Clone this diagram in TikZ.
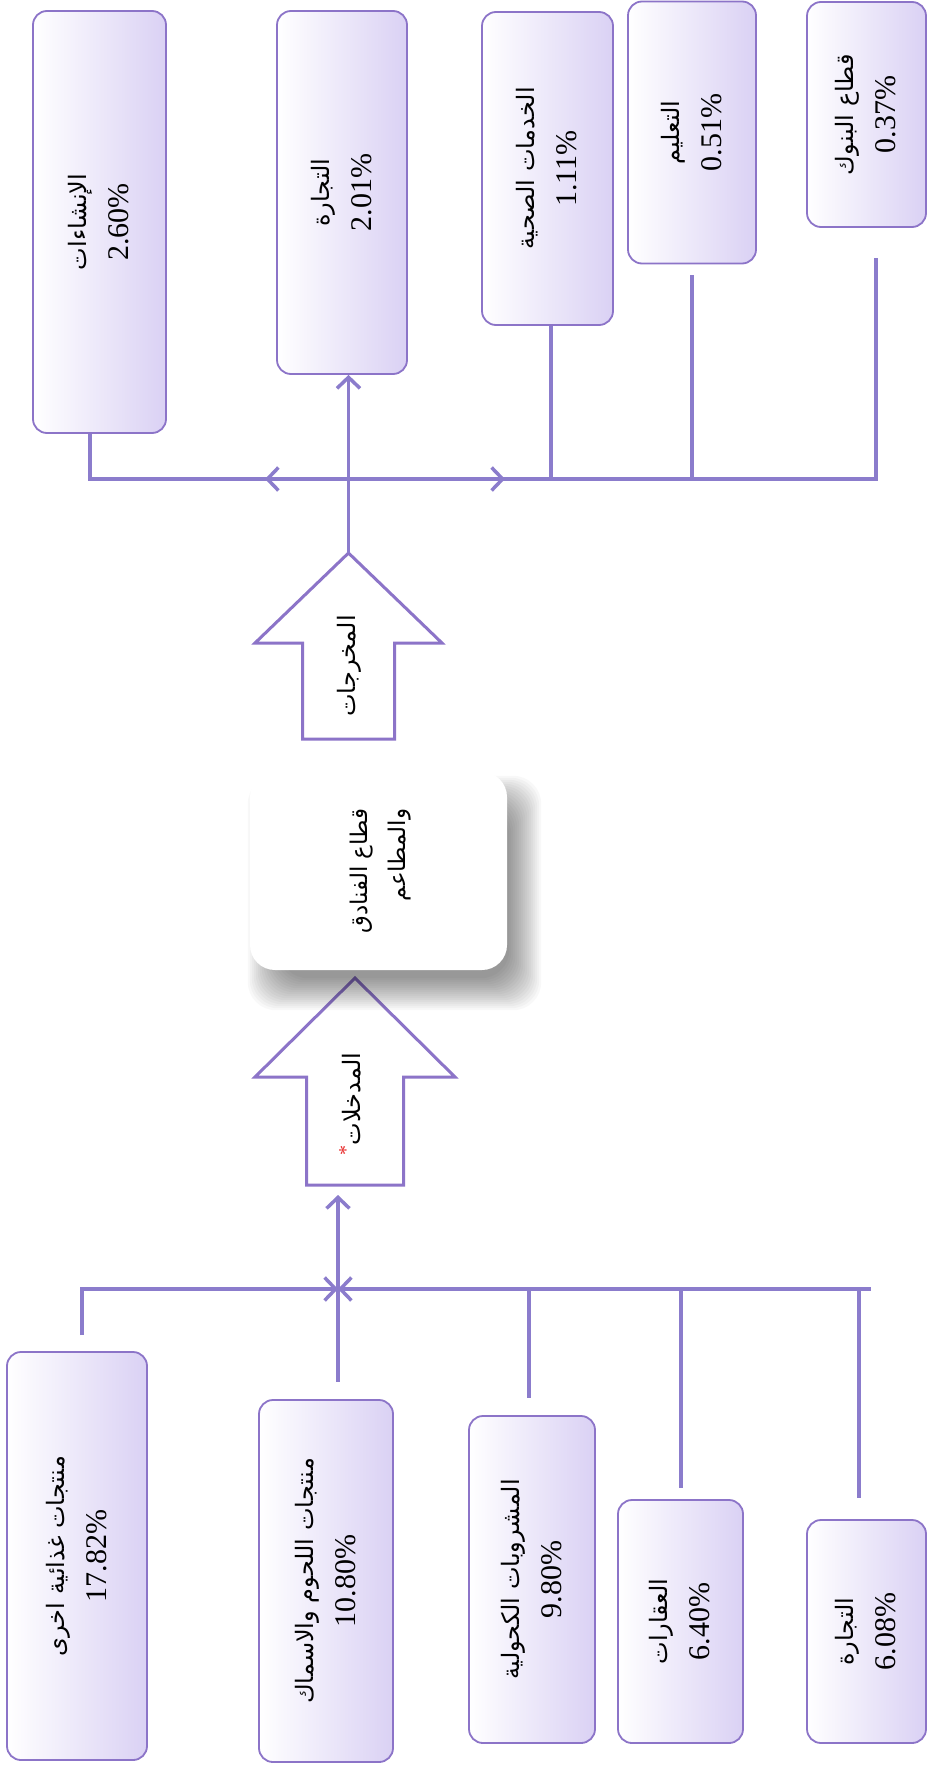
\documentclass[tikz,border=0pt]{standalone}
\usepackage{fontspec}
\usepackage{graphicx}
\setmainfont{Liberation Serif}
\newfontfamily\arfont[Script=Arabic]{DejaVu Sans}
\TeXXeTstate=1
\usetikzlibrary{arrows.meta,calc}
\pgfdeclarelayer{shadowlayer}
\pgfdeclarelayer{toplayer}
\pgfsetlayers{main,shadowlayer,toplayer}
\definecolor{lineC}{RGB}{139,124,204}
\definecolor{borderC}{RGB}{140,116,200}
\definecolor{fillC}{RGB}{218,209,244}
\definecolor{starC}{RGB}{232,40,40}
\newcommand{\boxlbl}[2]{\rotatebox{90}{\begin{tabular}{@{}c@{}}{\arfont\fontsize{24}{42}\selectfont\beginR #1\endR}\\ #2\end{tabular}}}
\newcommand{\blockarr}[7]{%
  \draw[blk] (#2,#3) -- (#2+#6,#4) -- (#2+#7,#4) -- (#2+#7,#5) -- (#2-#7,#5) -- (#2-#7,#4) -- (#2-#6,#4) -- cycle;
  \coordinate (#1-tip) at (#2,#3);
  \coordinate (#1-bot) at (#2,#5);}
\tikzset{
  secbox/.style={draw=borderC, line width=1.8pt, rounded corners=14pt, left color=white, right color=fillC, inner sep=0pt, font=\fontsize{30}{42}\selectfont},
  conn/.style={draw=lineC, line width=3.5pt},
  arr/.style={-{Straight Barb[length=11pt,width=23pt]}},
  blk/.style={draw=borderC, line width=3pt, fill=white, line join=miter},
  hotelbox/.style={fill=white, rounded corners=25pt, inner sep=0pt},
  shadowpiece/.style={fill=black, fill opacity=0.027, rounded corners=28pt},
  lbl/.style={inner sep=0pt, font=\arfont\fontsize{24}{38}\selectfont}
}
\begin{document}
\begin{tikzpicture}[x=1pt,y=-1pt]
\useasboundingbox[fill=white] (0,0) rectangle (928,1782);

% top boxes (outputs)
\node[secbox, minimum width=133pt, minimum height=422pt] (b1) at (99.5,222) {\boxlbl{الإنشاءات}{2.60\%}};
\node[secbox, minimum width=130pt, minimum height=363pt] (b2) at (342,192.5) {\boxlbl{التجارة}{2.01\%}};
\node[secbox, minimum width=131pt, minimum height=313pt] (b3) at (547.5,168.5) {\boxlbl{الخدمات الصحية}{1.11\%}};
\node[secbox, minimum width=128pt, minimum height=262pt] (b4) at (692,132.5) {\boxlbl{التعليم}{0.51\%}};
\node[secbox, minimum width=119pt, minimum height=225pt] (b5) at (866.5,114.5) {\boxlbl{قطاع البنوك}{0.37\%}};

% bottom boxes (inputs)
\node[secbox, minimum width=140pt, minimum height=408pt] (bA) at (77,1556) {\boxlbl{منتجات غذائية اخرى}{17.82\%}};
\node[secbox, minimum width=134pt, minimum height=362pt] (bB) at (326,1581) {\boxlbl{منتجات اللحوم والاسماك}{10.80\%}};
\node[secbox, minimum width=126pt, minimum height=327pt] (bC) at (532,1579.5) {\boxlbl{المشروبات الكحولية}{9.80\%}};
\node[secbox, minimum width=125pt, minimum height=243pt] (bD) at (680.5,1621.5) {\boxlbl{العقارات}{6.40\%}};
\node[secbox, minimum width=119pt, minimum height=223pt] (bE) at (866.5,1631.5) {\boxlbl{التجارة}{6.08\%}};

% central hotel sector box (on top layer), with its soft shadow beneath
\begin{pgfonlayer}{toplayer}
\node[hotelbox, minimum width=257pt, minimum height=198pt] (hotel) at (378.5,871)
  {\rotatebox{90}{\arfont\fontsize{23}{38}\selectfont\begin{tabular}{@{}r@{}}\beginR قطاع الفنادق\endR\\ \beginR والمطاعم\endR\end{tabular}}};
\end{pgfonlayer}
\begin{pgfonlayer}{shadowlayer}
\foreach \e in {18,16,...,-14}{
  \fill[shadowpiece] ($(hotel.north west)+(16-\e,22-\e)$) rectangle ($(hotel.south east)+(16+\e,22+\e)$);
}
\end{pgfonlayer}

% block arrows
\blockarr{out}{348.5}{553}{643}{739}{93.5}{46}
\node[lbl] (outlbl) at (349,666) {\rotatebox{90}{\beginR المخرجات\endR}};
\blockarr{in}{355}{978}{1077}{1185}{100}{48.5}
\node[lbl] (inlbl) at (350,1104) {\rotatebox{90}{{\color{starC}\raisebox{8pt}{\fontspec{Liberation Serif}\fontsize{20}{20}\selectfont *}}\beginR المدخلات\endR}};

% top connectors
\coordinate (j1) at (90,479);
\coordinate (j3) at (551,479);
\coordinate (j4) at (692,479);
\coordinate (j5) at (876,479);
\coordinate (jt) at (349,479);
\coordinate (al) at (265,479);
\coordinate (ar) at (505,479);
\coordinate (t4) at (692,275);
\coordinate (t5) at (876,258);
\draw[conn] (j1 |- b1.south) -- (j1) -- (j5) -- (t5);
\draw[conn] (j3) -- (j3 |- b3.south);
\draw[conn] (j4) -- (t4);
\draw[conn,arr] (jt) -- (al);
\draw[conn,arr] (jt) -- (ar);
\draw[conn,arr] (out-tip) -- (out-tip |- b2.south);

% bottom connectors
\coordinate (jA) at (82,1289);
\coordinate (jB) at (338,1289);
\coordinate (jC) at (529,1289);
\coordinate (jD) at (681,1289);
\coordinate (jE) at (859,1289);
\coordinate (jEnd) at (871,1289);
\coordinate (jBl) at (290,1289);
\coordinate (jBr) at (386,1289);
\coordinate (up) at (338,1195);
\coordinate (sA) at (82,1335);
\coordinate (sB) at (338,1382);
\coordinate (sC) at (529,1398);
\coordinate (sD) at (681,1488);
\coordinate (sE) at (859,1498);
\draw[conn] (sA) -- (jA) -- (jEnd);
\draw[conn] (jB) -- (sB);
\draw[conn] (jC) -- (sC);
\draw[conn] (jD) -- (sD);
\draw[conn] (jE) -- (sE);
\draw[conn,arr] (jBl) -- (jB);
\draw[conn,arr] (jBr) -- (jB);
\draw[conn,arr] (jB) -- (up);
\end{tikzpicture}
\end{document}
